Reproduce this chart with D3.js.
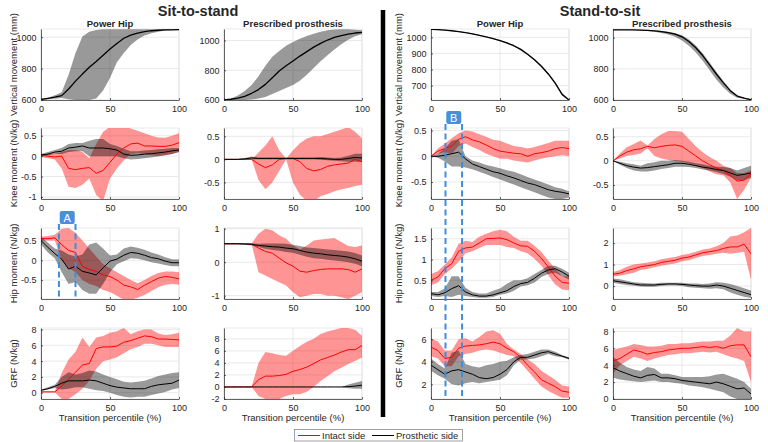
<!DOCTYPE html>
<html>
<head>
<meta charset="utf-8">
<script src="https://cdn.jsdelivr.net/npm/d3@7"></script>
<style>
  body { margin: 0; background: #fff; }
  svg text { font-family: "Liberation Sans", Arial, Helvetica, sans-serif; fill: #262626; }
</style>
</head>
<body>
<svg id="chart" width="768" height="442"></svg>
<script>
// x positions of every sample (transition percentile, %)
const pct = [0,5,10,15,20,25,30,35,40,45,50,55,60,65,70,75,80,85,90,95,100];

// ---- Sit-to-stand, Power Hip ----
const s2sPhVertM  = [603,610,618,628,670,720,765,808,845,885,925,960,993,1013,1026,1035,1041,1044,1046,1047,1048];
const s2sPhVertHi = [605,615,630,650,760,900,1005,1035,1045,1050,1050,1050,1050,1050,1050,1050,1050,1050,1050,1050,1050];
const s2sPhVertLo = [600,605,608,612,605,600,600,600,610,660,740,840,900,950,985,1010,1025,1035,1042,1045,1047];

const s2sPhKneeIntM  = [0.02,0,-0.02,0,-0.3,-0.33,-0.3,-0.28,-0.42,-0.35,-0.15,0.05,0.2,0.3,0.32,0.25,0.25,0.24,0.24,0.27,0.33];
const s2sPhKneeIntHi = [0.05,0.05,0.05,0.1,0.15,0.15,0.1,-0.05,0.3,0.6,0.72,0.72,0.72,0.68,0.62,0.56,0.5,0.46,0.45,0.5,0.56];
const s2sPhKneeIntLo = [-0.02,-0.05,-0.08,-0.3,-0.75,-0.78,-0.7,-0.55,-0.95,-1.1,-0.55,-0.3,-0.1,0.05,0.08,0.05,0.02,0,0.02,0.05,0.1];
const s2sPhKneeProM  = [0.03,0.05,0.1,0.12,0.2,0.22,0.25,0.2,0.2,0.2,0.18,0.15,0.05,0.02,0.03,0.05,0.06,0.08,0.1,0.13,0.15];
const s2sPhKneeProHi = [0.05,0.1,0.15,0.2,0.3,0.32,0.32,0.38,0.42,0.42,0.3,0.25,0.18,0.12,0.12,0.14,0.15,0.17,0.18,0.2,0.2];
const s2sPhKneeProLo = [0,0.02,0.05,0.05,0.1,0.12,0.12,0,0,0,0,0,-0.05,-0.08,-0.07,-0.05,-0.03,0,0.02,0.05,0.1];

const s2sPhHipIntM  = [0.55,0.55,0.57,0.4,0.25,0.2,-0.15,-0.23,-0.28,-0.37,-0.41,-0.5,-0.63,-0.67,-0.74,-0.63,-0.54,-0.45,-0.41,-0.43,-0.47];
const s2sPhHipIntHi = [0.6,0.62,0.65,0.8,0.82,0.7,0.5,0.3,0.1,-0.1,-0.2,-0.3,-0.4,-0.5,-0.58,-0.5,-0.4,-0.32,-0.28,-0.28,-0.3];
const s2sPhHipIntLo = [0.5,0.5,0.5,0,-0.2,-0.3,-0.5,-0.6,-0.65,-0.75,-0.8,-0.9,-1,-1,-0.95,-0.88,-0.78,-0.68,-0.62,-0.6,-0.62];
const s2sPhHipProM  = [0.5,0.33,0.17,0.03,-0.22,-0.15,-0.28,-0.32,-0.37,-0.19,-0.02,0.03,0.13,0.2,0.18,0.13,0.07,0.04,-0.02,-0.06,-0.06];
const s2sPhHipProHi = [0.6,0.45,0.3,0.25,0.15,0.1,0.15,0.4,0.45,0.3,0.12,0.15,0.3,0.35,0.32,0.27,0.2,0.15,0.08,0.03,0.02];
const s2sPhHipProLo = [0.4,0.2,0.05,-0.3,-0.6,-0.55,-0.75,-0.85,-0.85,-0.6,-0.3,-0.1,-0.02,0.05,0.04,0,-0.05,-0.08,-0.12,-0.15,-0.15];

const s2sPhGrfIntM  = [0.1,0.1,0.1,0.85,1.7,2.6,3.5,3.7,5.6,5.8,5.8,5.9,6.4,6.6,6.9,7.2,7.1,6.8,6.8,6.75,6.7];
const s2sPhGrfIntHi = [0.15,0.15,0.15,2.5,4.2,5.2,7,5.8,7,7.2,7.6,7.8,8.2,7.4,7.8,8,8,7.5,7.3,7.4,7.6];
const s2sPhGrfIntLo = [0.05,0.05,0.05,-0.8,-0.8,-0.2,0.5,1.5,3,4,4.2,4.5,5,5.5,5.8,6.2,6.2,6,5.8,5.8,5.8];
const s2sPhGrfProM  = [0.3,0.5,0.8,1.2,1.5,1.5,1.5,1.6,1.5,1.2,0.9,0.7,0.6,0.5,0.5,0.5,0.8,1,1.1,1.2,1.6];
const s2sPhGrfProHi = [0.4,0.7,1,2,2.6,2.3,2.5,2.8,2.7,2.3,2,1.7,1.4,1.3,1.4,1.5,1.8,2.1,2.3,2.5,2.6];
const s2sPhGrfProLo = [0.2,0.4,0.6,0.4,0.5,0.7,0.7,0.5,0.3,0.2,0,-0.3,-0.5,-0.6,-0.5,-0.5,-0.3,-0.1,0.1,0.4,0.6];

// ---- Sit-to-stand, Prescribed prosthesis ----
const s2sPrVertM  = [600,605,612,625,645,670,705,750,795,830,862,895,925,955,980,1003,1020,1033,1043,1050,1055];
const s2sPrVertHi = [600,610,630,660,700,760,830,890,930,965,990,1012,1030,1045,1058,1068,1073,1075,1075,1072,1068];
const s2sPrVertLo = [600,600,600,600,603,610,620,640,660,680,700,730,770,815,860,900,940,975,1005,1028,1042];

const s2sPrKneeIntM  = [0,0,0,0,0,-0.1,-0.18,-0.12,0,0.02,0.02,-0.05,-0.2,-0.25,-0.22,-0.15,-0.12,-0.1,-0.08,0,-0.05];
const s2sPrKneeIntHi = [0,0,0,0,0,0.15,0.3,0.5,0.2,0.02,0.2,0.35,0.45,0.5,0.5,0.55,0.6,0.65,0.7,0.6,0.45];
const s2sPrKneeIntLo = [0,0,0,0,0,-0.45,-0.65,-0.5,-0.25,0,-0.5,-0.77,-0.9,-0.9,-0.8,-0.75,-0.69,-0.65,-0.62,-0.58,-0.55];
const s2sPrKneeProM  = [0,0,0,0.01,0.03,0.02,0.02,0.02,0.02,0.02,0.02,0.02,0.02,0.02,0.02,0.01,0,0,0.02,0.04,0.03];
const s2sPrKneeProHi = [0.01,0.01,0.01,0.03,0.06,0.04,0.04,0.04,0.04,0.04,0.04,0.04,0.04,0.04,0.05,0.04,0.03,0.04,0.08,0.12,0.12];
const s2sPrKneeProLo = [-0.01,-0.01,-0.01,-0.01,0,0,0,0,0,0,0,0,0,0,-0.01,-0.02,-0.03,-0.04,-0.05,-0.05,-0.06];

const s2sPrHipIntM  = [0.55,0.55,0.55,0.55,0.55,0.42,0.32,0.27,0.12,-0.02,-0.12,-0.27,-0.3,-0.25,-0.22,-0.2,-0.2,-0.2,-0.22,-0.3,-0.2];
const s2sPrHipIntHi = [0.56,0.56,0.56,0.56,0.56,0.85,1,0.95,0.8,0.7,0.5,0.38,0.5,0.65,0.68,0.7,0.72,0.6,0.48,0.45,0.5];
const s2sPrHipIntLo = [0.54,0.54,0.54,0.54,0.54,-0.3,-0.4,-0.5,-0.6,-0.7,-0.9,-1.05,-1,-0.95,-0.95,-1,-1,-1.05,-1.1,-1,-0.9];
const s2sPrHipProM  = [0.55,0.55,0.55,0.54,0.53,0.5,0.48,0.46,0.45,0.42,0.4,0.35,0.3,0.27,0.25,0.22,0.2,0.18,0.15,0.1,0.03];
const s2sPrHipProHi = [0.57,0.57,0.57,0.56,0.56,0.55,0.56,0.56,0.56,0.55,0.52,0.48,0.44,0.42,0.4,0.38,0.36,0.34,0.32,0.27,0.2];
const s2sPrHipProLo = [0.53,0.53,0.53,0.52,0.5,0.45,0.4,0.36,0.34,0.3,0.28,0.22,0.16,0.12,0.1,0.07,0.05,0.03,0,-0.05,-0.12];

const s2sPrGrfIntM  = [0,0,0,0,0,1.2,1.8,1.8,1.9,2.1,2.6,2.9,3.3,3.9,4.5,4.9,5.3,5.8,6.2,6.2,6.9];
const s2sPrGrfIntHi = [0,0,0,0,0,4,5.8,5.6,5.3,5.2,6,6.8,7.5,8,8.8,9.2,9.5,9.8,9.8,9.5,8.5];
const s2sPrGrfIntLo = [0,0,0,0,0,-1.5,-2,-2,-2,-1.5,-1.2,-1.2,-0.8,0,1,1.8,2.6,3.2,3.8,4.3,4.9];
const s2sPrGrfProM  = [0,0,0,0,0,0,0,0,0,0,0,0,0,0,0,0,0,0,0.05,0.15,0.3];
const s2sPrGrfProHi = [0,0,0,0,0,0,0,0,0,0,0,0,0,0,0,0,0,0,0.4,0.7,1];
const s2sPrGrfProLo = [0,0,0,0,0,0,0,0,0,0,0,0,0,0,0,0,0,0,-0.2,-0.3,-0.3];

// ---- Stand-to-sit, Power Hip ----
const s2tPhVertM  = [1050,1048,1045,1041,1036,1030,1022,1013,1003,992,980,965,948,925,895,860,820,772,715,645,610];
const s2tPhVertHi = [1052,1050,1047,1043,1038,1032,1025,1016,1006,996,984,970,953,930,900,866,826,778,722,652,614];
const s2tPhVertLo = [1048,1046,1043,1039,1034,1028,1020,1011,1000,989,976,960,943,920,890,854,814,766,708,638,606];

const s2tPhKneeIntM  = [0,0.1,0.15,0.2,0.33,0.38,0.32,0.28,0.22,0.15,0.1,0.08,0.06,0.05,0,0.05,0.07,0.1,0.15,0.17,0.15];
const s2tPhKneeIntHi = [0,0.15,0.25,0.35,0.45,0.5,0.48,0.43,0.38,0.32,0.3,0.25,0.2,0.18,0.15,0.18,0.22,0.26,0.3,0.3,0.3];
const s2tPhKneeIntLo = [0,0.05,0.08,0.05,0.2,0.25,0.18,0.12,0.05,0,-0.05,-0.05,-0.08,-0.1,-0.12,-0.08,-0.05,-0.02,0,0.02,0];
const s2tPhKneeProM  = [0,0,0.02,0.05,0.08,-0.05,-0.15,-0.2,-0.25,-0.3,-0.33,-0.38,-0.42,-0.47,-0.52,-0.55,-0.6,-0.65,-0.68,-0.7,-0.73];
const s2tPhKneeProHi = [0,0.05,0.15,0.3,0.33,0,-0.08,-0.12,-0.17,-0.2,-0.23,-0.27,-0.3,-0.35,-0.4,-0.45,-0.5,-0.55,-0.6,-0.63,-0.68];
const s2tPhKneeProLo = [0,-0.03,-0.1,-0.2,-0.2,-0.22,-0.25,-0.3,-0.35,-0.4,-0.45,-0.5,-0.55,-0.6,-0.65,-0.7,-0.75,-0.8,-0.83,-0.83,-0.8];

const s2tPhHipIntM  = [0.5,0.58,0.78,0.9,1.2,1.28,1.3,1.4,1.5,1.51,1.52,1.48,1.4,1.33,1.32,1.2,1.03,0.82,0.6,0.45,0.43];
const s2tPhHipIntHi = [0.65,0.72,0.88,1.05,1.38,1.45,1.42,1.55,1.62,1.68,1.72,1.68,1.55,1.45,1.45,1.33,1.18,0.98,0.78,0.6,0.6];
const s2tPhHipIntLo = [0.38,0.45,0.65,0.78,0.95,1.15,1.2,1.28,1.35,1.35,1.35,1.3,1.28,1.2,1.15,1.02,0.85,0.62,0.4,0.28,0.26];
const s2tPhHipProM  = [0.18,0.15,0.2,0.3,0.37,0.22,0.15,0.12,0.12,0.15,0.2,0.25,0.35,0.42,0.45,0.55,0.67,0.75,0.78,0.7,0.6];
const s2tPhHipProHi = [0.22,0.22,0.3,0.6,0.6,0.32,0.22,0.18,0.18,0.25,0.3,0.42,0.5,0.5,0.55,0.65,0.75,0.85,0.85,0.78,0.68];
const s2tPhHipProLo = [0.12,0.1,0.12,0.1,0.15,0.12,0.1,0.08,0.08,0.1,0.15,0.18,0.25,0.35,0.38,0.45,0.58,0.65,0.68,0.6,0.52];

const s2tPhGrfIntM  = [5.3,5,4.3,4.4,5.2,5.4,5.45,5.5,5.6,5.75,5.6,5.2,4.9,4.4,3.7,3.1,2.4,2.1,1.8,1.4,1.3];
const s2tPhGrfIntHi = [6.1,5.8,5,5,6,6.1,5.8,6.2,6.7,6.8,6.5,5.6,5.1,4.7,4.2,3.8,3.2,2.8,2.4,1.9,1.8];
const s2tPhGrfIntLo = [4.5,4.3,3.6,3.6,4.5,4.7,4.8,5,5.1,5,4.8,4.6,4.5,3.9,3.2,2.5,1.8,1.4,1.1,0.8,0.8];
const s2tPhGrfProM  = [3.7,3.3,2.9,3.2,3.3,3.1,2.9,2.6,2.5,2.6,2.9,3.3,4,4.4,4.4,4.6,4.8,4.9,4.7,4.5,4.3];
const s2tPhGrfProHi = [4.3,3.8,3.4,4.8,5,3.8,3.6,3.5,3.7,3.8,4,4.1,4.4,4.6,4.7,4.9,5.1,5.1,4.9,4.6,4.4];
const s2tPhGrfProLo = [3.2,2.8,2.5,2,1.9,2.1,2.2,2.1,2.2,2.3,2.4,2.8,3.7,4.2,4.2,4.3,4.5,4.7,4.5,4.4,4.2];

// ---- Stand-to-sit, Prescribed prosthesis ----
const s2tPrVertM  = [1050,1050,1050,1049,1048,1046,1043,1038,1032,1022,1005,975,935,885,825,765,710,660,625,612,602];
const s2tPrVertHi = [1051,1051,1051,1050,1050,1049,1047,1043,1038,1030,1015,988,950,900,840,780,722,668,630,615,604];
const s2tPrVertLo = [1049,1049,1049,1047,1045,1042,1037,1030,1020,1005,982,948,905,852,790,730,680,640,615,608,600];

const s2tPrKneeIntM  = [0,0.1,0.18,0.23,0.25,0.3,0.27,0.3,0.32,0.33,0.3,0.2,0.1,0,-0.08,-0.15,-0.2,-0.3,-0.42,-0.4,-0.27];
const s2tPrKneeIntHi = [0,0.15,0.28,0.35,0.42,0.32,0.45,0.55,0.62,0.62,0.6,0.45,0.3,0.18,0.08,0,-0.1,-0.15,-0.25,-0.25,-0.2];
const s2tPrKneeIntLo = [0,0.05,0.1,0.12,0.15,0.26,0.1,0.05,0.02,0,-0.02,-0.05,-0.1,-0.15,-0.22,-0.28,-0.3,-0.45,-0.79,-0.6,-0.35];
const s2tPrKneeProM  = [0,-0.05,-0.1,-0.13,-0.15,-0.14,-0.12,-0.1,-0.08,-0.05,-0.05,-0.07,-0.1,-0.13,-0.15,-0.18,-0.2,-0.25,-0.3,-0.28,-0.25];
const s2tPrKneeProHi = [0,-0.02,-0.05,-0.07,-0.1,-0.05,-0.03,0,0,0.02,0,-0.02,-0.05,-0.07,-0.1,-0.12,-0.13,-0.15,-0.2,-0.15,-0.1];
const s2tPrKneeProLo = [0,-0.08,-0.15,-0.2,-0.22,-0.22,-0.2,-0.17,-0.15,-0.12,-0.12,-0.13,-0.15,-0.18,-0.2,-0.23,-0.27,-0.33,-0.4,-0.4,-0.35];

const s2tPrHipIntM  = [0.55,0.6,0.72,0.8,0.9,0.95,1,1.1,1.15,1.2,1.3,1.35,1.45,1.55,1.6,1.65,1.75,1.82,1.82,1.95,1.5];
const s2tPrHipIntHi = [0.65,0.75,0.9,1,1.05,1.1,1.15,1.25,1.3,1.35,1.45,1.5,1.6,1.7,1.75,1.85,2,2.3,2.35,2.5,2.7];
const s2tPrHipIntLo = [0.45,0.48,0.55,0.62,0.75,0.8,0.88,0.95,1,1.05,1.15,1.2,1.3,1.4,1.45,1.5,1.55,1.5,1.55,1.6,0.3];
const s2tPrHipProM  = [0.25,0.2,0.15,0.1,0.05,0.05,0.05,0.08,0.1,0.1,0.08,0.05,0.02,0,0,0.05,0,-0.1,-0.2,-0.3,-0.4];
const s2tPrHipProHi = [0.35,0.32,0.25,0.18,0.15,0.13,0.12,0.15,0.15,0.15,0.15,0.12,0.12,0.1,0.12,0.18,0.15,0.1,0,-0.1,-0.2];
const s2tPrHipProLo = [0.15,0.1,0.05,0.02,-0.02,-0.03,-0.03,0,0.03,0.03,0,-0.05,-0.08,-0.1,-0.12,-0.1,-0.15,-0.3,-0.4,-0.5,-0.55];

const s2tPrGrfIntM  = [4.5,4.8,5.3,5.8,5.6,5.3,5.5,5.6,5.8,5.9,6,6,6.1,6.2,6.1,6.2,6,6.3,6.4,6.4,5];
const s2tPrGrfIntHi = [5.8,6,6.2,6.5,6.4,6.2,6.2,6.3,6.5,6.5,6.6,6.6,6.7,6.8,6.8,6.9,6.9,7.5,8.4,8,8];
const s2tPrGrfIntLo = [3,4,4.5,5,4.8,4.5,4.8,5,5.2,5.3,5.4,5.4,5.5,5.6,5.5,5.6,5.3,5,4.8,4.5,2];
const s2tPrGrfProM  = [3.7,3.3,3,2.7,2.5,2.8,2.9,2.5,2.5,2.4,2.2,2.1,2,1.9,1.8,2,1.8,1.5,1.2,1.3,0.6];
const s2tPrGrfProHi = [5,4.3,3.8,3.5,3.3,3.8,3.6,3,3,2.8,2.6,2.6,2.6,2.6,2.7,2.9,3,2.7,2.4,2,1.2];
const s2tPrGrfProLo = [2.5,2.3,2.2,2.1,2,2.1,2.2,2,2,1.9,1.8,1.6,1.5,1.4,1.2,1,0.8,0.3,0,0,0];

const xTicks = [0, 50, 100];
const rowLabels = ["Vertical movement (mm)", "Knee moment (N/kg)", "Hip moment (N/kg)", "GRF (N/kg)"];
const colTitles = ["Power Hip", "Prescribed prosthesis", "Power Hip", "Prescribed prosthesis"];
const legendNames = ["Intact side", "Prosthetic side"];

// ---- layout ----
const colLeft = [41, 224, 431, 613];
const rowTop = [29, 128, 228, 328];
const plotW = 138, plotH = 71;
const RED = "#ff0000", BLACK = "#000000";

const both = (im, ih, il, pm, ph, pl) => [
    { m: im, hi: ih, lo: il, color: RED },
    { m: pm, hi: ph, lo: pl, color: BLACK }
];

const panels = [
    { r: 0, c: 0, domain: [600, 1052], ticks: [600, 800, 1000], series: [{ m: s2sPhVertM, hi: s2sPhVertHi, lo: s2sPhVertLo, color: BLACK, w: 1.3 }] },
    { r: 0, c: 1, domain: [600, 1077], ticks: [600, 800, 1000], series: [{ m: s2sPrVertM, hi: s2sPrVertHi, lo: s2sPrVertLo, color: BLACK, w: 1.3 }] },
    { r: 0, c: 2, domain: [610, 1052], ticks: [700, 800, 900, 1000], series: [{ m: s2tPhVertM, hi: s2tPhVertHi, lo: s2tPhVertLo, color: BLACK, w: 1.3 }] },
    { r: 0, c: 3, domain: [600, 1055], ticks: [600, 800, 1000], series: [{ m: s2tPrVertM, hi: s2tPrVertHi, lo: s2tPrVertLo, color: BLACK, w: 1.3 }] },

    { r: 1, c: 0, domain: [-1.05, 0.69], ticks: [-1, -0.5, 0, 0.5], series: both(s2sPhKneeIntM, s2sPhKneeIntHi, s2sPhKneeIntLo, s2sPhKneeProM, s2sPhKneeProHi, s2sPhKneeProLo) },
    { r: 1, c: 1, domain: [-0.86, 0.68], ticks: [-0.5, 0, 0.5], series: both(s2sPrKneeIntM, s2sPrKneeIntHi, s2sPrKneeIntLo, s2sPrKneeProM, s2sPrKneeProHi, s2sPrKneeProLo) },
    { r: 1, c: 2, domain: [-0.83, 0.55], ticks: [-0.5, 0, 0.5], series: both(s2tPhKneeIntM, s2tPhKneeIntHi, s2tPhKneeIntLo, s2tPhKneeProM, s2tPhKneeProHi, s2tPhKneeProLo) },
    { r: 1, c: 3, domain: [-0.79, 0.68], ticks: [-0.5, 0, 0.5], series: both(s2tPrKneeIntM, s2tPrKneeIntHi, s2tPrKneeIntLo, s2tPrKneeProM, s2tPrKneeProHi, s2tPrKneeProLo) },

    { r: 2, c: 0, domain: [-0.98, 0.82], ticks: [-0.5, 0, 0.5], series: both(s2sPhHipIntM, s2sPhHipIntHi, s2sPhHipIntLo, s2sPhHipProM, s2sPhHipProHi, s2sPhHipProLo) },
    { r: 2, c: 1, domain: [-1.1, 1.02], ticks: [-1, 0, 1], series: both(s2sPrHipIntM, s2sPrHipIntHi, s2sPrHipIntLo, s2sPrHipProM, s2sPrHipProHi, s2sPrHipProLo) },
    { r: 2, c: 2, domain: [0.05, 1.76], ticks: [0.5, 1, 1.5], series: both(s2tPhHipIntM, s2tPhHipIntHi, s2tPhHipIntLo, s2tPhHipProM, s2tPhHipProHi, s2tPhHipProLo) },
    { r: 2, c: 3, domain: [-0.6, 2.7], ticks: [0, 1, 2], series: both(s2tPrHipIntM, s2tPrHipIntHi, s2tPrHipIntLo, s2tPrHipProM, s2tPrHipProHi, s2tPrHipProLo) },

    { r: 3, c: 0, domain: [-0.8, 8.2], ticks: [0, 2, 4, 6, 8], series: both(s2sPhGrfIntM, s2sPhGrfIntHi, s2sPhGrfIntLo, s2sPhGrfProM, s2sPhGrfProHi, s2sPhGrfProLo) },
    { r: 3, c: 1, domain: [-2, 9.8], ticks: [-2, 0, 2, 4, 6, 8], series: both(s2sPrGrfIntM, s2sPrGrfIntHi, s2sPrGrfIntLo, s2sPrGrfProM, s2sPrGrfProHi, s2sPrGrfProLo) },
    { r: 3, c: 2, domain: [0.7, 7], ticks: [2, 4, 6], series: both(s2tPhGrfIntM, s2tPhGrfIntHi, s2tPhGrfIntLo, s2tPhGrfProM, s2tPhGrfProHi, s2tPhGrfProLo) },
    { r: 3, c: 3, domain: [0, 8.4], ticks: [0, 2, 4, 6, 8], series: both(s2tPrGrfIntM, s2tPrGrfIntHi, s2tPrGrfIntLo, s2tPrGrfProM, s2tPrGrfProHi, s2tPrGrfProLo) }
];

const svg = d3.select("#chart");
const xScales = {};

panels.forEach((p, idx) => {
    const left = colLeft[p.c], top = rowTop[p.r];
    const x = d3.scaleLinear().domain([0, 100]).range([left, left + plotW]);
    const y = d3.scaleLinear().domain(p.domain).range([top + plotH, top]);
    xScales[p.r + "-" + p.c] = x;

    const g = svg.append("g");

    // grid + light box
    g.append("rect").attr("x", left).attr("y", top).attr("width", plotW).attr("height", plotH)
        .attr("fill", "none").attr("stroke", "#e3e3e3").attr("stroke-width", 0.8);
    g.selectAll(".gx").data(xTicks).enter().append("line")
        .attr("x1", d => x(d)).attr("x2", d => x(d)).attr("y1", top).attr("y2", top + plotH)
        .attr("stroke", "#e3e3e3").attr("stroke-width", 0.8);
    g.selectAll(".gy").data(p.ticks).enter().append("line")
        .attr("x1", left).attr("x2", left + plotW).attr("y1", d => y(d)).attr("y2", d => y(d))
        .attr("stroke", "#e3e3e3").attr("stroke-width", 0.8);

    // bands and lines, clipped to plot box
    const clipId = "clip" + idx;
    svg.append("clipPath").attr("id", clipId).append("rect")
        .attr("x", left).attr("y", top).attr("width", plotW).attr("height", plotH);
    const plot = g.append("g").attr("clip-path", `url(#${clipId})`);

    const area = d3.area().x(d => x(d.p)).y0(d => y(d.lo)).y1(d => y(d.hi));
    const line = d3.line().x(d => x(d.p)).y(d => y(d.m));
    const rows = p.series.map(s => pct.map((v, i) => ({ p: v, m: s.m[i], lo: s.lo[i], hi: s.hi[i] })));

    p.series.forEach((s, k) => {
        plot.append("path").datum(rows[k]).attr("d", area)
            .attr("fill", s.color).attr("fill-opacity", s.color === RED ? 0.42 : 0.4);
    });
    p.series.forEach((s, k) => {
        plot.append("path").datum(rows[k]).attr("d", line)
            .attr("fill", "none").attr("stroke", s.color).attr("stroke-width", s.w || 1)
            .attr("stroke-linejoin", "round");
    });

    // axes
    const ax = g.append("g").attr("transform", `translate(0,${top + plotH})`)
        .call(d3.axisBottom(x).tickValues(xTicks).tickSizeInner(-2).tickSizeOuter(0).tickPadding(5.5));
    const ay = g.append("g").attr("transform", `translate(${left},0)`)
        .call(d3.axisLeft(y).tickValues(p.ticks).tickFormat(d => String(d)).tickSizeInner(-2).tickSizeOuter(0).tickPadding(4.5));
    [ax, ay].forEach(a => {
        a.attr("font-family", null).attr("font-size", null);
        a.select(".domain").attr("stroke", "#262626").attr("stroke-width", 0.7);
        a.selectAll(".tick line").attr("stroke", "#262626").attr("stroke-width", 0.7);
        a.selectAll(".tick text").attr("fill", "#262626").style("font-size", "9px");
    });

    // y label on first column of each half
    if (p.c === 0 || p.c === 2) {
        const lx = p.c === 0 ? 17 : 402;
        svg.append("text")
            .attr("transform", `translate(${lx},${top + plotH / 2}) rotate(-90)`)
            .attr("text-anchor", "middle").style("font-size", "9.5px")
            .text(rowLabels[p.r]);
    }
    // column titles
    if (p.r === 0) {
        svg.append("text").attr("x", left + plotW / 2).attr("y", 27)
            .attr("text-anchor", "middle").style("font-size", "9.5px").style("font-weight", "bold")
            .text(colTitles[p.c]);
    }
    // x label
    if (p.r === 3) {
        svg.append("text").attr("x", left + plotW / 2).attr("y", 421)
            .attr("text-anchor", "middle").style("font-size", "9.5px")
            .text("Transition percentile (%)");
    }
});

// main titles
svg.append("text").attr("x", 198).attr("y", 16).attr("text-anchor", "middle")
    .style("font-size", "14.5px").style("font-weight", "bold").text("Sit-to-stand");
svg.append("text").attr("x", 600).attr("y", 16).attr("text-anchor", "middle")
    .style("font-size", "14.5px").style("font-weight", "bold").text("Stand-to-sit");

// separator
svg.append("line").attr("x1", 383).attr("x2", 383).attr("y1", 10).attr("y2", 417)
    .attr("stroke", "#000").attr("stroke-width", 4.5);

// phase markers A and B
const BLUE = "#3d8ee0";
function marker(label, xs, p1, p2, yTop, yBottom) {
    [p1, p2].forEach(v => {
        svg.append("line").attr("x1", xs(v)).attr("x2", xs(v)).attr("y1", yTop).attr("y2", yBottom)
            .attr("stroke", BLUE).attr("stroke-width", 2).attr("stroke-dasharray", "6,3.5");
    });
    const cx = xs((p1 + p2) / 2);
    svg.append("rect").attr("x", cx - 7.5).attr("y", yTop - 13).attr("width", 15).attr("height", 13)
        .attr("rx", 2).attr("fill", "#4a90d9");
    svg.append("text").attr("x", cx).attr("y", yTop - 2.5).attr("text-anchor", "middle")
        .style("font-size", "11px").style("fill", "#fff").text(label);
}
marker("A", xScales["2-0"], 13, 25, 224, rowTop[2] + plotH);
marker("B", xScales["1-2"], 10.5, 22.5, 124, rowTop[3] + plotH);

// legend
const lg = svg.append("g");
lg.append("rect").attr("x", 294.5).attr("y", 429.5).attr("width", 168).attr("height", 11.5)
    .attr("fill", "#fff").attr("stroke", "#8a8a8a").attr("stroke-width", 0.8);
const legendX = [298, 372];
legendNames.forEach((name, i) => {
    lg.append("line").attr("x1", legendX[i]).attr("x2", legendX[i] + 22).attr("y1", 435.5).attr("y2", 435.5)
        .attr("stroke", i === 0 ? RED : BLACK).attr("stroke-width", 1);
    lg.append("text").attr("x", legendX[i] + 24).attr("y", 439).style("font-size", "9.5px").text(name);
});
</script>
</body>
</html>
